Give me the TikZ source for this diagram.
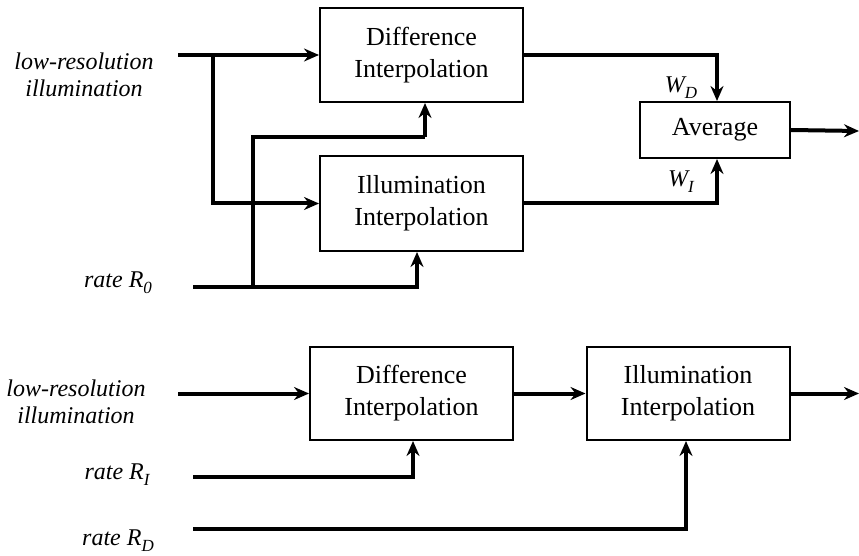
\documentclass[tikz,border=0pt]{standalone}
\usepackage{fontspec}
\setmainfont{Liberation Serif}
\usetikzlibrary{arrows.meta,calc}
\newcommand{\mysub}[1]{\raisebox{-0.25em}{\fontsize{17}{17}\selectfont #1}}
\begin{document}
\begin{tikzpicture}[x=1pt,y=-1pt,
  box/.style={draw, line width=2pt, minimum width=203pt, minimum height=94pt, align=center, font=\fontsize{26}{32}\selectfont, inner sep=0pt},
  conn/.style={line width=4pt, -{Stealth[length=15pt,width=13pt,inset=5pt]}},
  wire/.style={line width=4pt},
  lbl/.style={font=\fontsize{24}{27}\selectfont\itshape, align=center, inner sep=0pt}]
\useasboundingbox (0,0) rectangle (859,556);

% ---------- top diagram ----------
\node[box] (d1) at (421.5,55) {Difference\\Interpolation};
\node[box, minimum height=95pt] (i1) at (421.5,203.5) {Illumination\\Interpolation};
\node[box, minimum width=150pt, minimum height=56pt] (avg) at (715,130) {Average};

\node[lbl] (lr1) at (84,75) {low-resolution\\illumination};
\node[lbl] (rr0) at (118,283) {rate R\mysub{0}};
\node[lbl] (wd) at (681,88) {W\mysub{D}};
\node[lbl] (wi) at (681,182) {W\mysub{I}};

\coordinate (in1) at (178,55);
\coordinate (j1) at (213,55);
\coordinate (r0s) at (193,287);
\coordinate (j2) at (253,287);
\coordinate (k1) at (425,137);
\coordinate (out1) at (859,131);

\draw[conn] (in1) -- (d1.west);
\draw[conn] (j1) |- (i1.west);
\draw[conn] (r0s) -| ([xshift=-4.5pt]i1.south);
\draw[wire] (j2) |- (k1);
\draw[conn] (k1) -- (k1 |- d1.south);
\draw[conn] (d1.east) -| ([xshift=2pt]avg.north);
\draw[conn] (i1.east) -| ([xshift=2pt]avg.south);
\draw[conn] (avg.east) -- (out1);

% ---------- bottom diagram ----------
\node[box, minimum height=93pt] (d2) at (411.5,393.5) {Difference\\Interpolation};
\node[box, minimum height=93pt] (i2) at (688,393.5) {Illumination\\Interpolation};

\node[lbl] (lr2) at (76,402) {low-resolution\\illumination};
\node[lbl] (rr1) at (117,475) {rate R\mysub{I}};
\node[lbl] (rrd) at (118,541) {rate R\mysub{D}};

\coordinate (in2) at (178,393.5);
\coordinate (r1s) at (193,477);
\coordinate (rds) at (193,529);
\coordinate (out2) at (859,393.5);

\draw[conn] (in2) -- (d2.west);
\draw[conn] (d2.east) -- (i2.west);
\draw[conn] (i2.east) -- (out2);
\draw[conn] (r1s) -| ([xshift=1.5pt]d2.south);
\draw[conn] (rds) -| ([xshift=-2pt]i2.south);
\end{tikzpicture}
\end{document}
